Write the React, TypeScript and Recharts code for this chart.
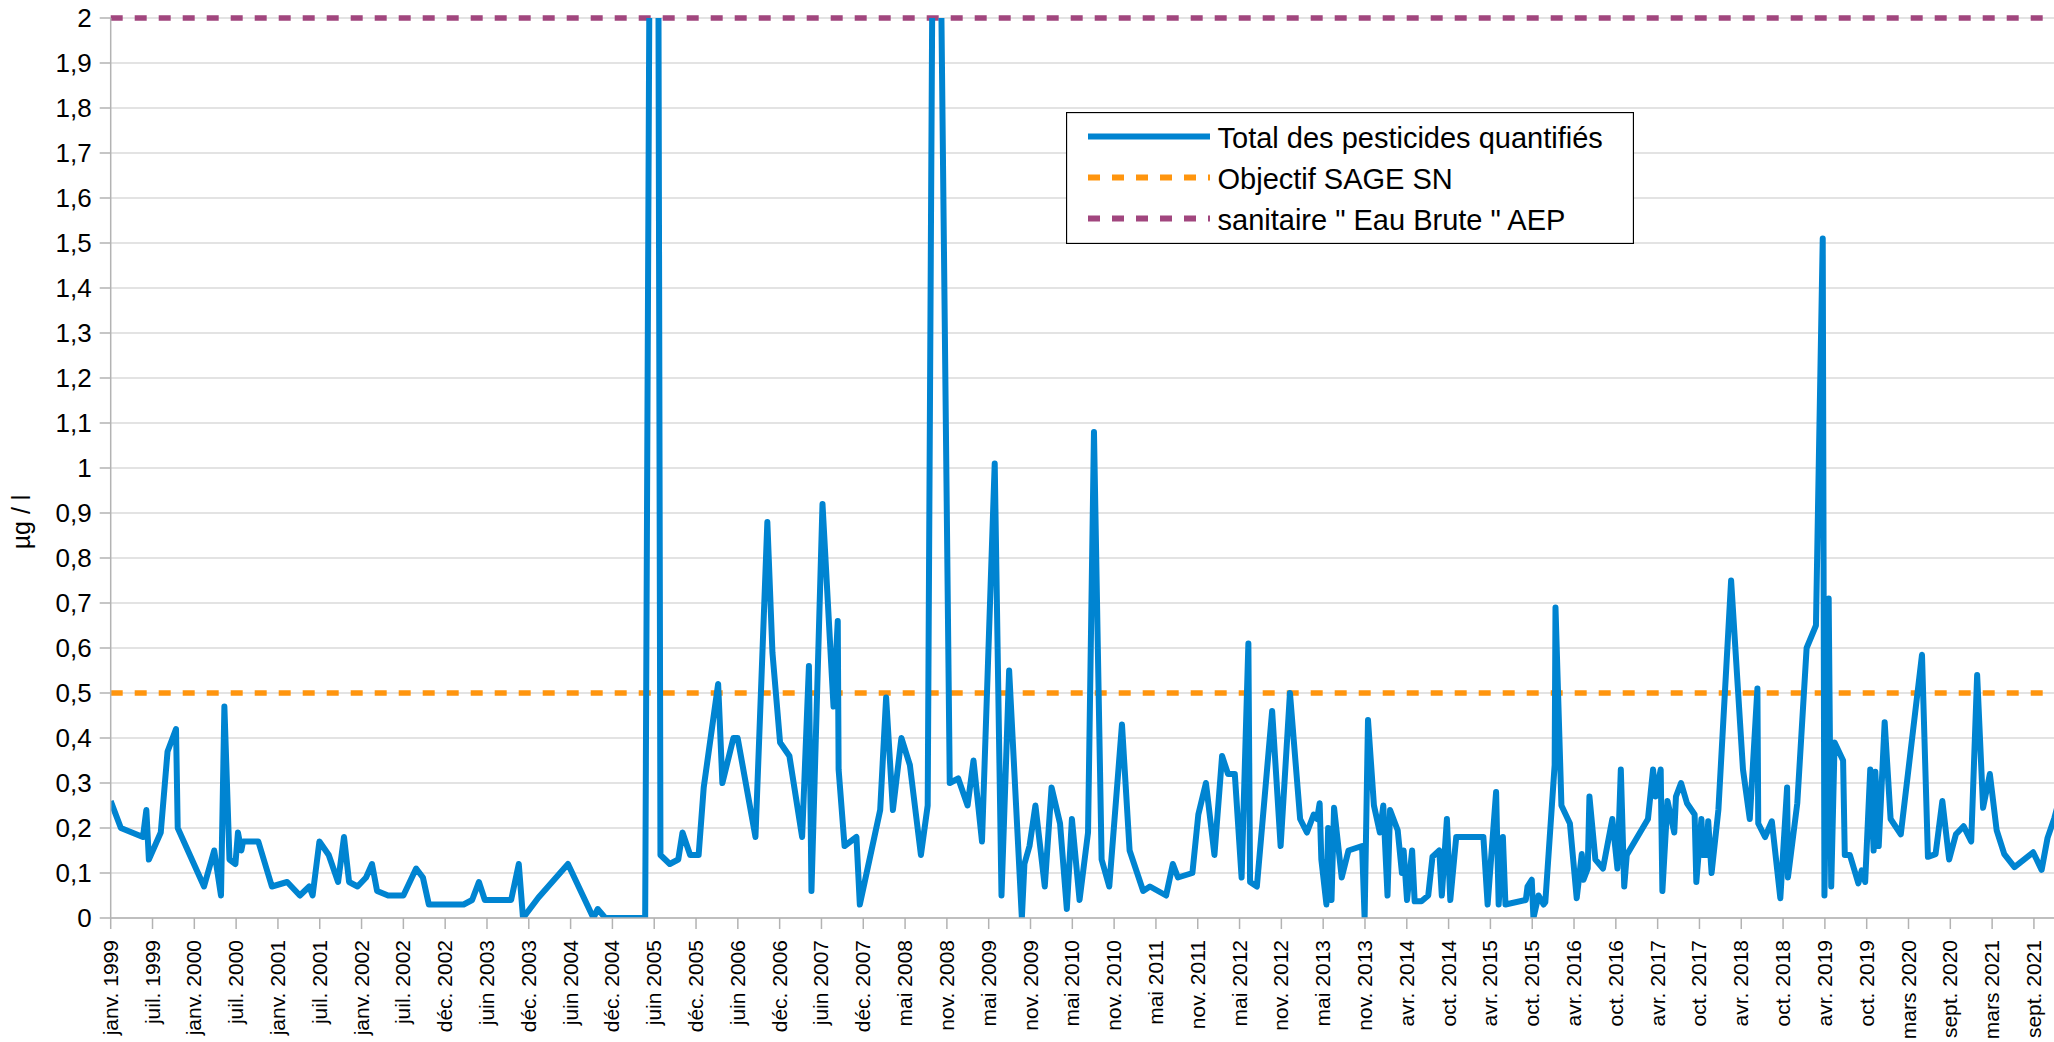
import {
  CartesianGrid,
  Legend,
  Line,
  LineChart,
  ReferenceLine,
  XAxis,
  YAxis,
} from "recharts";

// relevés : [date en années décimales, total des pesticides en µg/l]
const releves1999_2001: [number, number][] = [
  [1999.05, 0.26], [1999.17, 0.2], [1999.43, 0.18], [1999.47, 0.24], [1999.5, 0.13],
  [1999.64, 0.19], [1999.72, 0.37], [1999.82, 0.42], [1999.84, 0.2], [2000.15, 0.07],
  [2000.27, 0.15], [2000.35, 0.05], [2000.39, 0.47], [2000.45, 0.13], [2000.52, 0.12],
  [2000.55, 0.19], [2000.59, 0.15], [2000.61, 0.17], [2000.79, 0.17], [2000.95, 0.07],
  [2001.13, 0.08], [2001.28, 0.05], [2001.39, 0.07], [2001.43, 0.05], [2001.51, 0.17],
  [2001.62, 0.14], [2001.73, 0.08], [2001.8, 0.18], [2001.86, 0.08], [2001.96, 0.07],
];

const releves2002_2004: [number, number][] = [
  [2002.06, 0.09], [2002.13, 0.12], [2002.19, 0.06], [2002.32, 0.05], [2002.5, 0.05],
  [2002.65, 0.11], [2002.73, 0.09], [2002.8, 0.03], [2003.21, 0.03], [2003.31, 0.04],
  [2003.39, 0.08], [2003.46, 0.04], [2003.77, 0.04], [2003.86, 0.12], [2003.91, 0],
  [2004.09, 0.045], [2004.44, 0.12], [2004.74, 0], [2004.79, 0.02], [2004.88, 0],
];

const releves2005_2007: [number, number][] = [
  [2005.35, 0], [2005.47, 5.0], [2005.53, 0.14], [2005.64, 0.12], [2005.74, 0.13],
  [2005.79, 0.19], [2005.88, 0.14], [2005.98, 0.14], [2006.04, 0.29], [2006.21, 0.52],
  [2006.26, 0.3], [2006.39, 0.4], [2006.44, 0.4], [2006.65, 0.18], [2006.79, 0.88],
  [2006.85, 0.59], [2006.94, 0.39], [2007.05, 0.36], [2007.2, 0.18], [2007.28, 0.56],
  [2007.31, 0.06], [2007.44, 0.92], [2007.57, 0.47], [2007.62, 0.66], [2007.63, 0.33],
  [2007.7, 0.16], [2007.84, 0.18], [2007.88, 0.03],
];

const releves2008_2010: [number, number][] = [
  [2008.12, 0.24], [2008.19, 0.49], [2008.27, 0.24], [2008.37, 0.4], [2008.47, 0.34],
  [2008.6, 0.14], [2008.68, 0.25], [2008.77, 3.25], [2008.94, 0.3], [2009.04, 0.31],
  [2009.15, 0.25], [2009.22, 0.35], [2009.32, 0.17], [2009.47, 1.01], [2009.55, 0.05],
  [2009.64, 0.55], [2009.79, 0], [2009.82, 0.12], [2009.88, 0.16], [2009.95, 0.25],
  [2010.06, 0.07], [2010.14, 0.29], [2010.24, 0.21], [2010.32, 0.02], [2010.38, 0.22],
  [2010.47, 0.04], [2010.57, 0.19], [2010.64, 1.08], [2010.73, 0.13], [2010.82, 0.07],
  [2010.97, 0.43],
];

const releves2011_2013: [number, number][] = [
  [2011.06, 0.15], [2011.22, 0.06], [2011.3, 0.07], [2011.49, 0.05], [2011.57, 0.12],
  [2011.63, 0.09], [2011.8, 0.1], [2011.87, 0.23], [2011.96, 0.3], [2012.06, 0.14],
  [2012.15, 0.36], [2012.22, 0.32], [2012.3, 0.32], [2012.38, 0.09], [2012.46, 0.61],
  [2012.48, 0.08], [2012.56, 0.07], [2012.74, 0.46], [2012.84, 0.16], [2012.95, 0.5],
  [2013.07, 0.22], [2013.15, 0.19], [2013.23, 0.23], [2013.27, 0.22], [2013.3, 0.255],
  [2013.32, 0.13], [2013.38, 0.03], [2013.4, 0.2], [2013.44, 0.04], [2013.47, 0.245],
  [2013.56, 0.09], [2013.64, 0.15], [2013.8, 0.16], [2013.83, 0], [2013.87, 0.44],
  [2013.94, 0.25],
];

const releves2014_2016: [number, number][] = [
  [2014.01, 0.19], [2014.05, 0.25], [2014.1, 0.05], [2014.13, 0.24], [2014.22, 0.195],
  [2014.27, 0.1], [2014.29, 0.15], [2014.33, 0.04], [2014.39, 0.15], [2014.42, 0.037],
  [2014.5, 0.037], [2014.58, 0.05], [2014.63, 0.136], [2014.71, 0.15], [2014.74, 0.05],
  [2014.8, 0.22], [2014.84, 0.04], [2014.91, 0.18], [2015.23, 0.18], [2015.28, 0.03],
  [2015.38, 0.28], [2015.41, 0.03], [2015.46, 0.18], [2015.49, 0.03], [2015.73, 0.04],
  [2015.75, 0.07], [2015.8, 0.085], [2015.82, 0], [2015.88, 0.05], [2015.94, 0.03],
  [2015.96, 0.035], [2016.07, 0.34], [2016.08, 0.69], [2016.15, 0.25], [2016.25, 0.21],
  [2016.33, 0.044], [2016.39, 0.142], [2016.41, 0.085], [2016.46, 0.11], [2016.48, 0.27],
  [2016.55, 0.13], [2016.64, 0.11], [2016.75, 0.22], [2016.81, 0.11], [2016.85, 0.33],
  [2016.89, 0.07], [2016.92, 0.14],
];

const releves2017_2019: [number, number][] = [
  [2017.17, 0.22], [2017.23, 0.33], [2017.26, 0.27], [2017.32, 0.33], [2017.34, 0.06],
  [2017.4, 0.26], [2017.48, 0.19], [2017.5, 0.27], [2017.56, 0.3], [2017.63, 0.255],
  [2017.72, 0.23], [2017.74, 0.08], [2017.8, 0.22], [2017.82, 0.14], [2017.86, 0.14],
  [2017.88, 0.215], [2017.92, 0.1], [2018.0, 0.24], [2018.15, 0.75], [2018.29, 0.33],
  [2018.37, 0.22], [2018.46, 0.51], [2018.47, 0.21], [2018.55, 0.18], [2018.63, 0.215],
  [2018.73, 0.044], [2018.81, 0.29], [2018.82, 0.09], [2018.93, 0.255], [2019.04, 0.6],
  [2019.15, 0.65], [2019.23, 1.51], [2019.25, 0.05], [2019.3, 0.71], [2019.33, 0.07],
  [2019.37, 0.39], [2019.47, 0.35], [2019.49, 0.14], [2019.55, 0.14], [2019.65, 0.077],
  [2019.69, 0.106], [2019.73, 0.08], [2019.79, 0.33], [2019.83, 0.15], [2019.85, 0.325],
  [2019.89, 0.16], [2019.96, 0.435],
];

const releves2020_2021: [number, number][] = [
  [2020.03, 0.22], [2020.15, 0.186], [2020.4, 0.585], [2020.47, 0.136], [2020.56, 0.142],
  [2020.64, 0.26], [2020.72, 0.13], [2020.8, 0.186], [2020.89, 0.204], [2020.98, 0.17],
  [2021.05, 0.54], [2021.12, 0.245], [2021.2, 0.32], [2021.28, 0.195], [2021.37, 0.142],
  [2021.49, 0.113], [2021.71, 0.146], [2021.81, 0.107], [2021.88, 0.178], [2021.96, 0.222],
  [2022.0, 0.25],
];

const tickLabels = [
  "janv. 1999", "juil. 1999", "janv. 2000", "juil. 2000", "janv. 2001", "juil. 2001",
  "janv. 2002", "juil. 2002", "déc. 2002", "juin 2003", "déc. 2003", "juin 2004",
  "déc. 2004", "juin 2005", "déc. 2005", "juin 2006", "déc. 2006", "juin 2007",
  "déc. 2007", "mai 2008", "nov. 2008", "mai 2009", "nov. 2009", "mai 2010",
  "nov. 2010", "mai 2011", "nov. 2011", "mai 2012", "nov. 2012", "mai 2013",
  "nov. 2013", "avr. 2014", "oct. 2014", "avr. 2015", "oct. 2015", "avr. 2016",
  "oct. 2016", "avr. 2017", "oct. 2017", "avr. 2018", "oct. 2018", "avr. 2019",
  "oct. 2019", "mars 2020", "sept. 2020", "mars 2021", "sept. 2021",
];

const objectifSage = 0.5;
const seuilSanitaire = 2;

const legendItems = [
  { label: "Total des pesticides quantifiés", color: "#0084d1", dash: undefined },
  { label: "Objectif SAGE SN", color: "#ff950e", dash: "12 12" },
  { label: 'sanitaire " Eau Brute " AEP', color: "#a1467e", dash: "12 12" },
];

// axe des dates : une graduation tous les 180 jours
const debut = 1999.05;
const pas = 180 / 365.25;
const fin = debut + 46.48 * pas;
const tickValues = tickLabels.map((_, i) => debut + i * pas);
const yTicks = Array.from({ length: 21 }, (_, i) => i / 10);

const data = [
  ...releves1999_2001,
  ...releves2002_2004,
  ...releves2005_2007,
  ...releves2008_2010,
  ...releves2011_2013,
  ...releves2014_2016,
  ...releves2017_2019,
  ...releves2020_2021,
].map(([date, total]) => ({ date, total }));

const FONT = "'Liberation Sans', Arial, sans-serif";
const GRID = "#c8c8c8";
const AXIS = "#b3b3b3";

function DateTick({ x, y, payload }: any) {
  const i = tickValues.findIndex((v) => Math.abs(v - payload.value) < 1e-6);
  const tx = x + 7;
  return (
    <text
      x={tx}
      y={y}
      transform={`rotate(-90, ${tx}, ${y})`}
      textAnchor="end"
      fontSize={21}
      fontFamily={FONT}
      fill="#000"
    >
      {tickLabels[i]}
    </text>
  );
}

function AxisTitle() {
  return (
    <text
      x={30}
      y={522}
      transform="rotate(-90, 30, 522)"
      textAnchor="middle"
      fontSize={25}
      fontFamily={FONT}
      fill="#000"
    >
      µg / l
    </text>
  );
}

function LegendBox() {
  return (
    <svg width={568} height={132} style={{ display: "block" }}>
      <rect x={0.5} y={0.5} width={567} height={131} fill="#fff" stroke="#000" strokeWidth={1.3} />
      {legendItems.map((item, i) => {
        const cy = 24.5 + i * 41;
        return (
          <g key={item.label}>
            <line
              x1={22}
              x2={144}
              y1={cy}
              y2={cy}
              stroke={item.color}
              strokeWidth={6}
              strokeDasharray={item.dash}
            />
            <text x={151.5} y={cy + 11.5} fontSize={29} fontFamily={FONT} fill="#000">
              {item.label}
            </text>
          </g>
        );
      })}
    </svg>
  );
}

export default function App() {
  return (
    <div
      style={{
        position: "fixed",
        left: 0,
        top: 0,
        width: 2054,
        height: 1042,
        background: "#fff",
        fontFamily: FONT,
      }}
    >
      <LineChart
        width={2054}
        height={1042}
        data={data}
        margin={{ top: 18, right: 0, bottom: 0, left: 0 }}
      >
        <CartesianGrid vertical={false} stroke={GRID} strokeWidth={1.2} />
        <XAxis
          dataKey="date"
          type="number"
          domain={[debut, fin]}
          allowDataOverflow
          ticks={tickValues}
          interval={0}
          height={124}
          tick={<DateTick />}
          tickSize={11}
          tickMargin={11}
          axisLine={{ stroke: AXIS, strokeWidth: 1.5 }}
          tickLine={{ stroke: AXIS, strokeWidth: 1.5 }}
        />
        <YAxis
          type="number"
          domain={[0, 2]}
          allowDataOverflow
          ticks={yTicks}
          interval={0}
          width={110.7}
          tickSize={11}
          tickMargin={8}
          tickFormatter={(v: number) => String(Number(v.toFixed(1))).replace(".", ",")}
          tick={{ fill: "#000", fontSize: 26, fontFamily: FONT }}
          axisLine={{ stroke: AXIS, strokeWidth: 1.5 }}
          tickLine={{ stroke: AXIS, strokeWidth: 1.5 }}
          label={<AxisTitle />}
        />
        <ReferenceLine y={objectifSage} stroke="#ff950e" strokeWidth={5.5} strokeDasharray="12 12" />
        <ReferenceLine y={seuilSanitaire} stroke="#a1467e" strokeWidth={5.5} strokeDasharray="12 12" />
        <Line
          type="linear"
          dataKey="total"
          stroke="#0084d1"
          strokeWidth={6}
          strokeLinejoin="round"
          dot={false}
          activeDot={false}
          isAnimationActive={false}
        />
        <Legend
          layout="vertical"
          align="center"
          verticalAlign="middle"
          content={() => <LegendBox />}
          wrapperStyle={{ left: 1065.5, top: 111.5, width: 568, height: 132 }}
        />
      </LineChart>
    </div>
  );
}
